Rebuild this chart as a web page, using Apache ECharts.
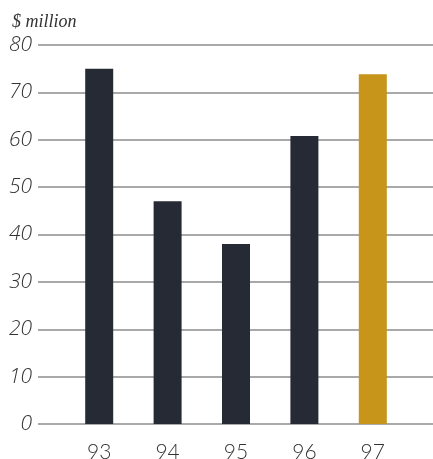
<!DOCTYPE html>
<html><head><meta charset="utf-8">
<script src="https://cdn.jsdelivr.net/npm/echarts@6/dist/echarts.min.js"></script>
<style>html,body{margin:0;padding:0;background:#fff}#c{width:433px;height:459px}</style>
</head><body><div id="c"></div>
<script>
const categories = ['93', '94', '95', '96', '97'];
const values = [75, 47, 38, 60.8, 73.8];
const barColors = ['#262a35', '#262a35', '#262a35', '#262a35', '#c6951a'];
const yTicks = [0, 10, 20, 30, 40, 50, 60, 70, 80];
const unitLabel = '$ million';

const chart = echarts.init(document.getElementById('c'));
const font = 'Lato';
chart.setOption({
  animation: false,
  title: { text: unitLabel, left: 7, top: 8, textStyle: { fontFamily: 'Liberation Serif', fontStyle: 'italic', fontWeight: 'normal', fontSize: 18, color: '#333' } },
  grid: [
    { left: 38, right: 0, top: 45, bottom: 35, containLabel: false, outerBoundsMode: 'none' },
    { left: 65, width: 342, top: 45, bottom: 35, containLabel: false, outerBoundsMode: 'none' }
  ],
  xAxis: [
    { gridIndex: 0, type: 'value', min: 0, max: 1, show: false },
    { gridIndex: 1, type: 'category', data: categories,
      axisLine: { show: false }, axisTick: { show: false },
      axisLabel: { margin: 18, fontFamily: font, fontWeight: 300, fontSize: 21, color: '#333' } }
  ],
  yAxis: [
    { gridIndex: 0, type: 'value', min: yTicks[0], max: yTicks[yTicks.length - 1], interval: 10,
      axisLine: { show: false }, axisTick: { show: false },
      splitLine: { lineStyle: { color: '#8c8c8c', width: 1.5 } },
      axisLabel: { margin: 6, fontFamily: 'Open Sans', fontStyle: 'italic', fontWeight: 300, fontSize: 21, color: '#333' } },
    { gridIndex: 1, type: 'value', min: yTicks[0], max: yTicks[yTicks.length - 1], interval: 10, show: false, splitLine: { show: false } }
  ],
  series: [{
    type: 'bar', xAxisIndex: 1, yAxisIndex: 1, barWidth: 28,
    data: values.map((v, i) => ({ value: v, itemStyle: { color: barColors[i] } }))
  }]
});
</script></body></html>
